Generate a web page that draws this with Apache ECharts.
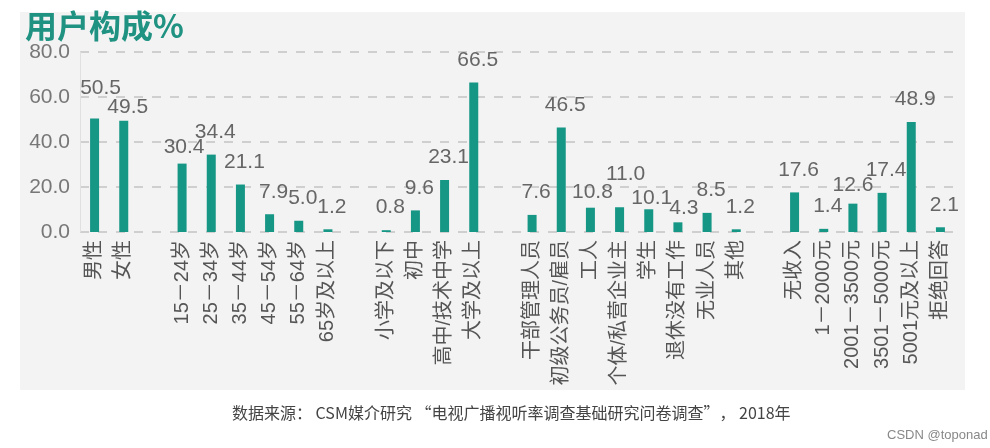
<!DOCTYPE html>
<html>
<head>
<meta charset="utf-8">
<script src="https://cdn.jsdelivr.net/npm/echarts@6/dist/echarts.min.js"></script>
<style>html,body{margin:0;padding:0;background:#fff;}#c{width:990px;height:448px;}</style>
</head>
<body>
<div id="c"></div>
<script>
const categories = ['男性','女性','','15－24岁','25－34岁','35－44岁','45－54岁','55－64岁','65岁及以上','',
  '小学及以下','初中','高中/技术中学','大学及以上','',
  '干部管理人员','初级公务员/雇员','工人','个体/私营企业主','学生','退休没有工作','无业人员','其他','',
  '无收入','1－2000元','2001－3500元','3501－5000元','5001元及以上','拒绝回答'];
const values = [50.5,49.5,null,30.4,34.4,21.1,7.9,5.0,1.2,null,
  0.8,9.6,23.1,66.5,null,
  7.6,46.5,10.8,11.0,10.1,4.3,8.5,1.2,null,
  17.6,1.4,12.6,17.4,48.9,2.1];
const yTicks = [0,20,40,60,80];

// label placement tweaks (style only, keyed by category index): [dx, dy]
const labelNudge = {0:[6,-8],1:[4,9],3:[2,6],17:[2,7],18:[6,-11],19:[3,11],20:[6,8],26:[0,4]};

const chart = echarts.init(document.getElementById('c'));
const cjk = '"Liberation Sans","Noto Sans CJK SC",sans-serif';
const seriesData = values.map((v,i)=>{
  if (v==null) return null;
  const n = labelNudge[i] || [4,0];
  return {value:v,label:{offset:n}};
});
chart.setOption({
  animation:false,
  backgroundColor:'#ffffff',
  graphic:[{type:'rect',left:20,top:12,shape:{width:945,height:378},style:{fill:'#f3f3f3'},z:-10,silent:true}],
  title:[
    {text:'用户构成%',left:20,top:5,textStyle:{fontSize:32,fontWeight:'bold',color:'#1f9282',fontFamily:'"Noto Sans CJK SC",sans-serif'}},
    {text:'数据来源： CSM媒介研究 “电视广播视听率调查基础研究问卷调查”， 2018年',left:227,top:400,textStyle:{fontSize:16,fontWeight:'normal',color:'#444',fontFamily:'"Noto Sans CJK SC",sans-serif'}},
    {text:'CSDN @toponad',left:882,top:424,textStyle:{fontSize:13,fontWeight:'normal',color:'#888',fontFamily:cjk}}
  ],
  grid:{left:80,right:35,top:52,bottom:216,containLabel:false},
  xAxis:{
    type:'category',data:categories,
    axisTick:{show:false},
    axisLine:{show:false},
    axisLabel:{interval:0,rotate:90,fontSize:20,color:'#555',margin:8,fontFamily:cjk}
  },
  yAxis:{
    type:'value',min:yTicks[0],max:yTicks[yTicks.length-1],interval:20,
    axisLine:{show:true,lineStyle:{color:'#e0e0e0'}},
    axisTick:{show:false},
    axisLabel:{fontSize:21,color:'#777',margin:10,fontFamily:cjk,formatter:v=>v.toFixed(1)},
    splitLine:{show:true,lineStyle:{type:[9,9],color:'#cfcfcf',width:2}}
  },
  series:[{
    type:'bar',data:seriesData,barWidth:9,
    itemStyle:{color:'#169685'},
    label:{show:true,position:'top',distance:12,fontSize:21,color:'#666',fontFamily:cjk,
      formatter:p=>p.value==null?'':Number(p.value).toFixed(1)}
  }]
});
</script>
</body>
</html>
